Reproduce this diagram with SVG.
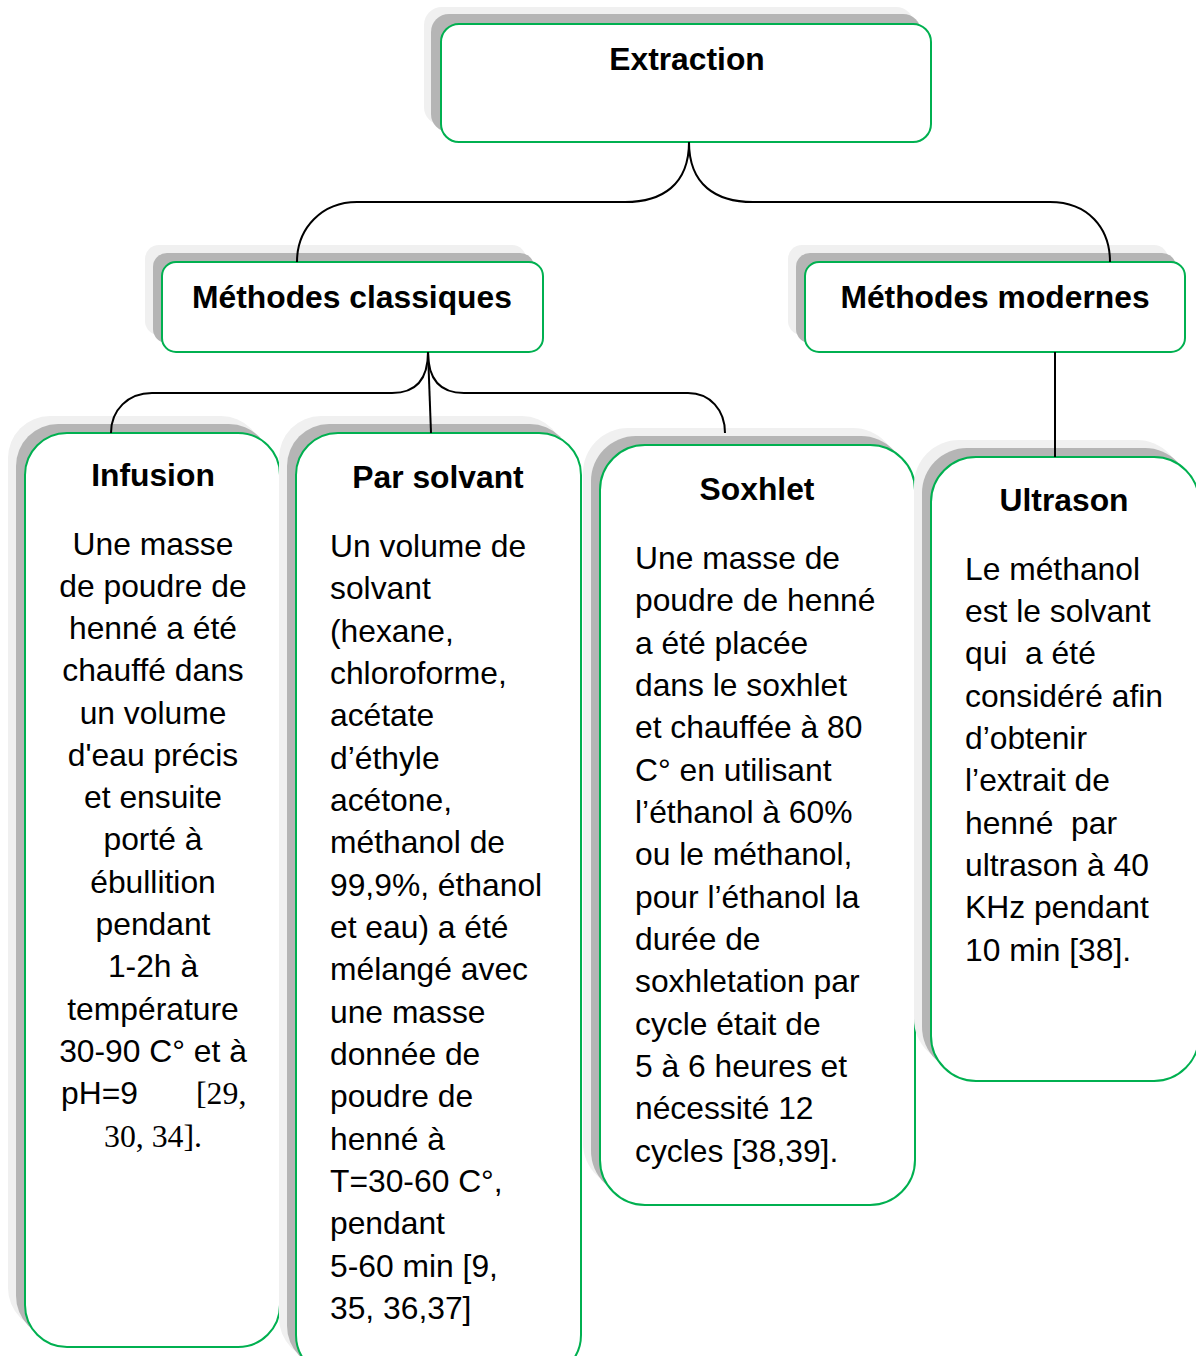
<svg xmlns="http://www.w3.org/2000/svg" width="1196" height="1356" viewBox="0 0 1196 1356">
<style>
.l{fill:#f0f0f0}
.d{fill:#b5b5b5}
.b{fill:#fff;stroke:#00b050;stroke-width:2}
.t{font-family:"Liberation Sans",Arial,sans-serif;font-size:31.8px;font-weight:bold;fill:#000;text-anchor:middle}
.x{font-family:"Liberation Sans",Arial,sans-serif;font-size:31.8px;fill:#000}
.c{text-anchor:middle}
.s{font-family:"Liberation Serif","Times New Roman",serif;font-size:31.8px;fill:#000}
.k{fill:none;stroke:#000;stroke-width:2}
</style>
<rect width="1196" height="1356" fill="#fff"/>
<g id="extraction">
<rect class="l" x="424" y="7" width="490" height="118" rx="18"/>
<rect class="d" x="431" y="14" width="490" height="118" rx="18"/>
<rect class="b" x="441" y="24" width="490" height="118" rx="18"/>
<text class="t" x="687" y="70">Extraction</text>
</g>
<g id="classiques">
<rect class="l" x="145" y="245" width="381" height="90" rx="14"/>
<rect class="d" x="153" y="253" width="381" height="90" rx="14"/>
<rect class="b" x="162" y="262" width="381" height="90" rx="14"/>
<text class="t" x="352" y="308">Méthodes classiques</text>
</g>
<g id="modernes">
<rect class="l" x="788" y="245" width="380" height="90" rx="14"/>
<rect class="d" x="796" y="253" width="380" height="90" rx="14"/>
<rect class="b" x="805" y="262" width="380" height="90" rx="14"/>
<text class="t" x="995" y="308">Méthodes modernes</text>
</g>
<g id="infusion">
<rect class="l" x="8" y="416" width="255" height="914" rx="42"/>
<rect class="d" x="16" y="424" width="255" height="914" rx="42"/>
<rect class="b" x="25" y="433" width="255" height="914" rx="42"/>
<text class="t" x="153" y="486">Infusion</text>
<text class="x c" x="153" y="555">Une masse</text>
<text class="x c" x="153" y="597">de poudre de</text>
<text class="x c" x="153" y="639">henné a été</text>
<text class="x c" x="153" y="681">chauffé dans</text>
<text class="x c" x="153" y="724">un volume</text>
<text class="x c" x="153" y="766">d'eau précis</text>
<text class="x c" x="153" y="808">et ensuite</text>
<text class="x c" x="153" y="850">porté à</text>
<text class="x c" x="153" y="893">ébullition</text>
<text class="x c" x="153" y="935">pendant</text>
<text class="x c" x="153" y="977">1-2h à</text>
<text class="x c" x="153" y="1020">température</text>
<text class="x c" x="153" y="1062">30-90 C° et à</text>
<text class="x" x="61" y="1104">pH=9</text>
<text class="s" x="196" y="1104">[29,</text>
<text class="s c" x="153" y="1147">30, 34].</text>
</g>
<g id="solvant">
<rect class="l" x="279" y="416" width="285" height="944" rx="42"/>
<rect class="d" x="287" y="424" width="285" height="944" rx="42"/>
<rect class="b" x="296" y="433" width="285" height="944" rx="42"/>
<text class="t" x="438" y="488">Par solvant</text>
<text class="x" x="330" y="557">Un volume de</text>
<text class="x" x="330" y="599">solvant</text>
<text class="x" x="330" y="642">(hexane,</text>
<text class="x" x="330" y="684">chloroforme,</text>
<text class="x" x="330" y="726">acétate</text>
<text class="x" x="330" y="769">d’éthyle</text>
<text class="x" x="330" y="811">acétone,</text>
<text class="x" x="330" y="853">méthanol de</text>
<text class="x" x="330" y="896">99,9%, éthanol</text>
<text class="x" x="330" y="938">et eau) a été</text>
<text class="x" x="330" y="980">mélangé avec</text>
<text class="x" x="330" y="1023">une masse</text>
<text class="x" x="330" y="1065">donnée de</text>
<text class="x" x="330" y="1107">poudre de</text>
<text class="x" x="330" y="1150">henné à</text>
<text class="x" x="330" y="1192">T=30-60 C°,</text>
<text class="x" x="330" y="1234">pendant</text>
<text class="x" x="330" y="1277">5-60 min [9,</text>
<text class="x" x="330" y="1319">35, 36,37]</text>
</g>
<g id="soxhlet">
<rect class="l" x="583" y="428" width="315" height="760" rx="45"/>
<rect class="d" x="591" y="436" width="315" height="760" rx="45"/>
<rect class="b" x="600" y="445" width="315" height="760" rx="45"/>
<text class="t" x="757" y="500">Soxhlet</text>
<text class="x" x="635" y="569">Une masse de</text>
<text class="x" x="635" y="611">poudre de henné</text>
<text class="x" x="635" y="654">a été placée</text>
<text class="x" x="635" y="696">dans le soxhlet</text>
<text class="x" x="635" y="738">et chauffée à 80</text>
<text class="x" x="635" y="781">C° en utilisant</text>
<text class="x" x="635" y="823">l’éthanol à 60%</text>
<text class="x" x="635" y="865">ou le méthanol,</text>
<text class="x" x="635" y="908">pour l’éthanol la</text>
<text class="x" x="635" y="950">durée de</text>
<text class="x" x="635" y="992">soxhletation par</text>
<text class="x" x="635" y="1035">cycle était de</text>
<text class="x" x="635" y="1077">5 à 6 heures et</text>
<text class="x" x="635" y="1119">nécessité 12</text>
<text class="x" x="635" y="1162">cycles [38,39].</text>
</g>
<g id="ultrason">
<rect class="l" x="914" y="440" width="268" height="624" rx="45"/>
<rect class="d" x="922" y="448" width="268" height="624" rx="45"/>
<rect class="b" x="931" y="457" width="268" height="624" rx="45"/>
<text class="t" x="1064" y="511">Ultrason</text>
<text class="x" x="965" y="580">Le méthanol</text>
<text class="x" x="965" y="622">est le solvant</text>
<text class="x" x="965" y="664" xml:space="preserve">qui  a été</text>
<text class="x" x="965" y="707">considéré afin</text>
<text class="x" x="965" y="749">d’obtenir</text>
<text class="x" x="965" y="791">l’extrait de</text>
<text class="x" x="965" y="834" xml:space="preserve">henné  par</text>
<text class="x" x="965" y="876">ultrason à 40</text>
<text class="x" x="965" y="918">KHz pendant</text>
<text class="x" x="965" y="961">10 min [38].</text>
</g>
<g id="connectors">
<path class="k" d="M689,142 C689,185 662,202 625,202 L357,202 C322,202 297,228 297,262"/>
<path class="k" d="M689,142 C689,185 716,202 753,202 L1050,202 C1088,202 1110,228 1110,262"/>
<path class="k" d="M428,352 C428,380 416,393 392,393 L152,393 C128,393 111,410 111,433"/>
<path class="k" d="M428,352 L431,433"/>
<path class="k" d="M428,352 C428,380 440,393 464,393 L688,393 C710,393 725,410 725,433"/>
<path class="k" d="M1055,352 L1055,457"/>
</g>
</svg>
